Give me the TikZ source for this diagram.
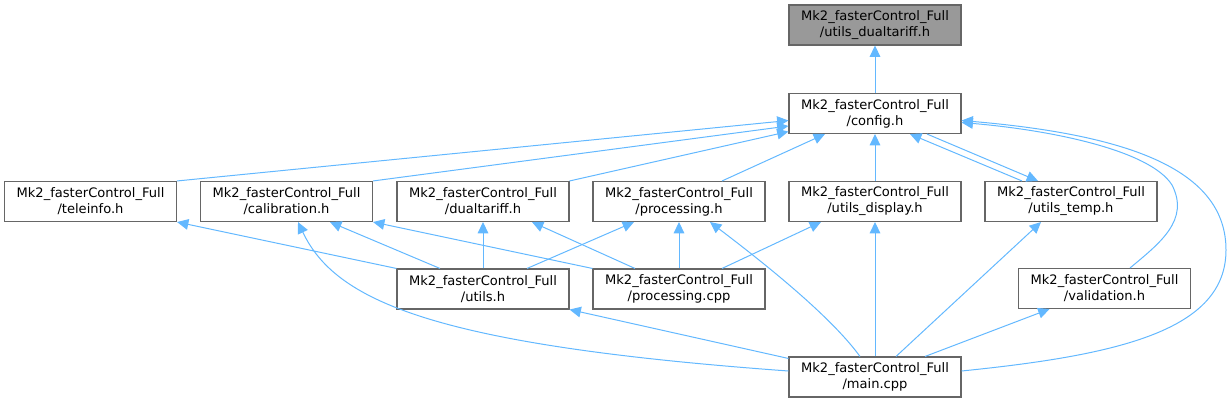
\documentclass[tikz,border=0pt]{standalone}
\usepackage{fontspec}
\setmainfont{DejaVu Sans}
\usetikzlibrary{arrows.meta,calc}
\definecolor{edgeblue}{HTML}{63B8FF}
\definecolor{boxgrey}{HTML}{666666}
\definecolor{fillgrey}{HTML}{999999}
\begin{document}
\begin{tikzpicture}[x=0.75pt,y=-0.75pt,
  filebox/.style={draw=boxgrey,line width=0.8pt,fill=white,minimum width=129pt,minimum height=30pt,
    inner sep=0pt,align=center,font=\fontsize{9.8}{12}\selectfont},
  rootbox/.style={filebox,fill=fillgrey},
  edge/.style={draw=edgeblue,line width=0.75pt,-{Triangle[length=8.5pt,width=8pt]}}]
\useasboundingbox (0,0) rectangle (1232,403);
% nodes
\node[rootbox] (ud)   at (875,25)    {Mk2\_fasterControl\_Full\\/utils\_dualtariff.h};
\node[filebox] (cfg)  at (875,113.5) {Mk2\_fasterControl\_Full\\/config.h};
\node[filebox] (tel)  at (90.5,201.5) {Mk2\_fasterControl\_Full\\/teleinfo.h};
\node[filebox] (cal)  at (286.5,201.5) {Mk2\_fasterControl\_Full\\/calibration.h};
\node[filebox] (dt)   at (483,201.5) {Mk2\_fasterControl\_Full\\/dualtariff.h};
\node[filebox] (ph)   at (679,201.5) {Mk2\_fasterControl\_Full\\/processing.h};
\node[filebox] (disp) at (875,201.5) {Mk2\_fasterControl\_Full\\/utils\_display.h};
\node[filebox] (temp) at (1071,201.5) {Mk2\_fasterControl\_Full\\/utils\_temp.h};
\node[filebox] (uh)   at (483,289) {Mk2\_fasterControl\_Full\\/utils.h};
\node[filebox] (pc)   at (679,289) {Mk2\_fasterControl\_Full\\/processing.cpp};
\node[filebox] (val)  at (1104.5,288.5) {Mk2\_fasterControl\_Full\\/validation.h};
\node[filebox] (main) at (875,377) {Mk2\_fasterControl\_Full\\/main.cpp};
% edges
\draw[edge] (cfg.north) -- (ud.south);
\draw[edge] (tel.north east) -- ($(cfg.west)+(0,7)$);
\draw[edge] (cal.north east) -- ($(cfg.west)+(0,12.5)$);
\draw[edge] (dt.north east) -- ($(cfg.south west)+(0,-2.5)$);
\draw[edge] ($(ph.north)+(43,0)$) -- ($(cfg.south)+(-50,0)$);
\draw[edge] (disp.north) -- (cfg.south);
\draw[edge] ($(temp.north)+(-49,0)$) -- ($(cfg.south)+(35,0)$);
\draw[edge] ($(cfg.south)+(52,0)$) -- ($(temp.north)+(-33,0)$);
\draw[edge] ($(val.north)+(25.5,0)$) .. controls (1160,243) and (1190,220) .. (1172,185)
   .. controls (1150,150) and (1050,130) .. ($(cfg.east)+(0,9)$);
\draw[edge] ($(main.east)+(0,-6)$) .. controls (1120,355) and (1226,330) .. (1226,250)
   .. controls (1226,170) and (1130,135) .. ($(cfg.east)+(0,7)$);
\draw[edge] (uh.north west) -- (tel.south east);
\draw[edge] ($(uh.north)+(-43,0)$) -- ($(cal.south)+(43.5,0)$);
\draw[edge] (pc.north west) -- (cal.south east);
\draw[edge] ($(main.west)+(0,-6)$) .. controls (430,345) and (335,300) .. ($(cal.south)+(11.5,0)$);
\draw[edge] (uh.north) -- (dt.south);
\draw[edge] ($(pc.north)+(-44,0)$) -- ($(dt.south)+(49,0)$);
\draw[edge] ($(uh.north)+(44,0)$) -- ($(ph.south)+(-45,0)$);
\draw[edge] (pc.north) -- (ph.south);
\draw[edge] ($(main.north)+(-15,0)$) .. controls (830,315) and (760,260) .. ($(ph.south)+(31,0)$);
\draw[edge] ($(pc.north)+(43,0)$) -- ($(disp.south)+(-54,0)$);
\draw[edge] (main.north) -- (disp.south);
\draw[edge] ($(main.north)+(21,0)$) -- ($(temp.south)+(-30,0)$);
\draw[edge] ($(main.north west)+(0,2)$) -- (uh.south east);
\draw[edge] ($(main.north)+(50,0)$) -- ($(val.south)+(-55,0)$);
\end{tikzpicture}
\end{document}
